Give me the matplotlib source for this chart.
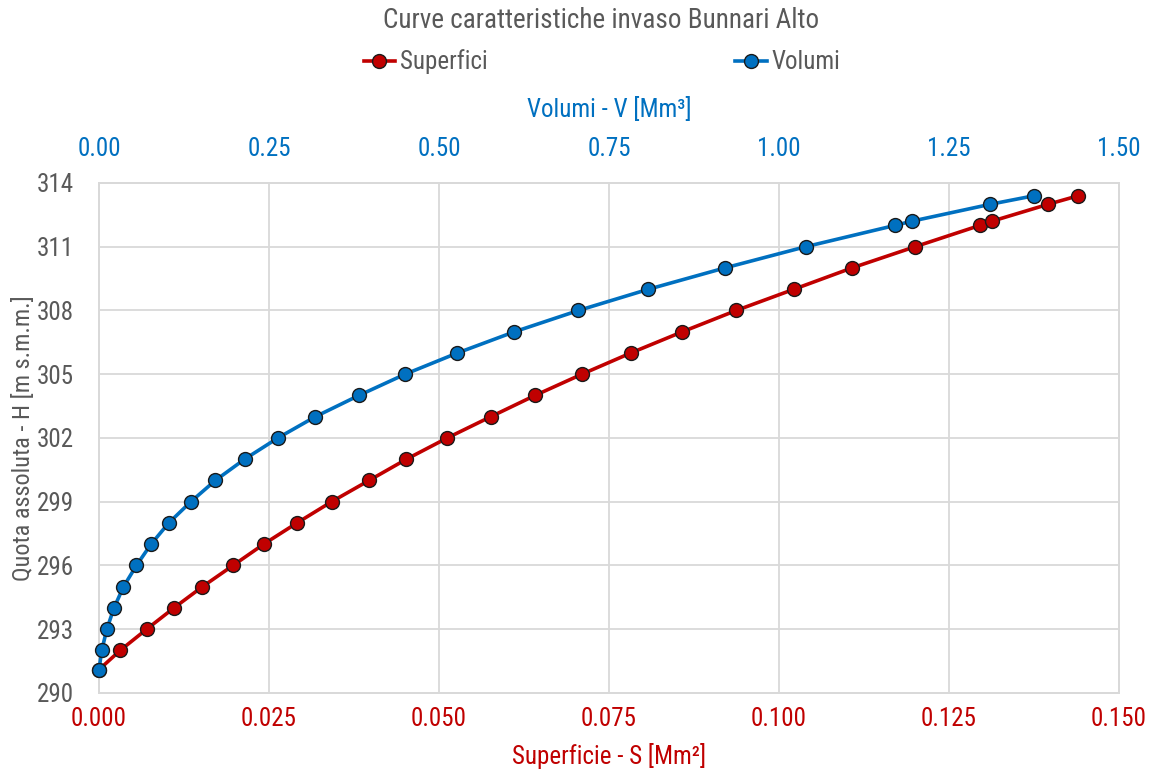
import matplotlib
matplotlib.use("Agg")
import matplotlib.pyplot as plt
from matplotlib.lines import Line2D

# ---- data ----
quota = [291.1, 292, 293, 294, 295, 296, 297, 298, 299, 300, 301, 302, 303, 304,
         305, 306, 307, 308, 309, 310, 311, 312, 312.2, 313, 313.4]
superfici = [0.0, 0.0031, 0.0070, 0.0110, 0.0152, 0.0197, 0.0242, 0.0291, 0.0342,
             0.0397, 0.0452, 0.0512, 0.0576, 0.0641, 0.0710, 0.0782, 0.0858, 0.0937,
             0.1022, 0.1107, 0.1200, 0.1295, 0.1313, 0.1396, 0.1440]
volumi = [0.0, 0.004, 0.0115, 0.022, 0.036, 0.055, 0.0765, 0.1025, 0.135, 0.171,
          0.214, 0.263, 0.318, 0.382, 0.450, 0.527, 0.611, 0.705, 0.808, 0.920,
          1.039, 1.170, 1.195, 1.311, 1.375]
s_ticks = [0.000, 0.025, 0.050, 0.075, 0.100, 0.125, 0.150]
v_ticks = [0.00, 0.25, 0.50, 0.75, 1.00, 1.25, 1.50]
h_ticks = [290, 293, 296, 299, 302, 305, 308, 311, 314]

title = "Curve caratteristiche invaso Bunnari Alto"
label_s = "Superficie - S [Mm²]"
label_v = "Volumi - V [Mm³]"
label_h = "Quota assoluta - H [m s.m.m.]"

RED = "#C00000"
BLUE = "#0070C0"
GRAY = "#595959"
GRID = "#D9D9D9"
FS = 18

plt.rcParams['font.family'] = ['Liberation Sans Narrow', 'Roboto Condensed', 'Liberation Sans', 'DejaVu Sans']

fig = plt.figure(figsize=(11.49, 7.75), dpi=100)
ax = fig.add_axes([99/1149, 1-693/775, 1020/1149, 510/775])
ax2 = ax.twiny()

ax.plot(superfici, quota, color=RED, lw=2.6, marker='o', ms=10,
        mfc=RED, mec='#1a1a1a', mew=1.0, zorder=3, clip_on=False)
ax2.plot(volumi, quota, color=BLUE, lw=2.6, marker='o', ms=10,
         mfc=BLUE, mec='#1a1a1a', mew=1.0, zorder=3, clip_on=False)

ax.set_xlim(0, 0.150)
ax2.set_xlim(0, 1.50)
ax.set_ylim(290, 314)
ax.set_xticks(s_ticks)
ax.set_xticklabels([f"{v:.3f}" for v in s_ticks])
ax2.set_xticks(v_ticks)
ax2.set_xticklabels([f"{v:.2f}" for v in v_ticks])
ax.set_yticks(h_ticks)
ax.set_yticklabels([str(v) for v in h_ticks])

ax.grid(True, color=GRID, lw=1.3)
ax.set_axisbelow(True)
for a in (ax, ax2):
    for sp in a.spines.values():
        sp.set_color(GRID)
        sp.set_linewidth(1.3)
ax.tick_params(axis='x', length=0, pad=10, labelsize=FS, labelcolor=RED)
ax.tick_params(axis='y', length=0, pad=18, labelsize=FS, labelcolor=GRAY)
ax2.tick_params(axis='x', length=0, pad=16, labelsize=FS, labelcolor=BLUE)

ax.set_xlabel(label_s, fontsize=FS, color=RED, labelpad=9)
ax2.set_xlabel(label_v, fontsize=FS, color=BLUE, labelpad=14)
ax.set_ylabel(label_h, fontsize=17.5, color=GRAY, labelpad=1.7)

fig.text(0.523, 1-20/775, title, ha='center', va='center', fontsize=19.5, color=GRAY)

handles = [Line2D([], [], color=RED, lw=2.6, marker='o', ms=10, mfc=RED, mec='#1a1a1a'),
           Line2D([], [], color=BLUE, lw=2.6, marker='o', ms=10, mfc=BLUE, mec='#1a1a1a')]
leg = fig.legend(handles, ["Superfici", "Volumi"], loc='center', bbox_to_anchor=(0.524, 1-62/775),
                 ncol=2, frameon=False, fontsize=FS, handlelength=1.25, handletextpad=0.2,
                 columnspacing=9.9)
for t in leg.get_texts():
    t.set_color(GRAY)

fig.savefig("out.png", dpi=100)
